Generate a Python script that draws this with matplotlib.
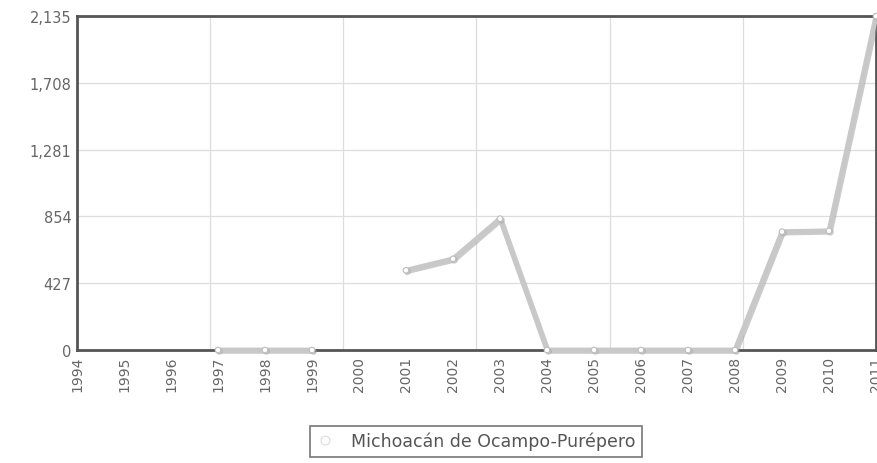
import numpy as np
import matplotlib.pyplot as plt
import matplotlib.patheffects as pe

# --------------------------------------------------------
# Data
# --------------------------------------------------------
years = list(range(1994, 2012))
values = [np.nan, np.nan, np.nan, 0, 0, 0, np.nan, 510, 583, 840,
          0, 0, 0, 0, 0, 757, 762, 2135]
y_ticks = [0, 427, 854, 1281, 1708, 2135]
series_name = 'Michoacán de Ocampo-Purépero'

# --------------------------------------------------------
# Plot
# --------------------------------------------------------
fig = plt.figure(figsize=(8.78, 4.64), dpi=100)
ax = fig.add_axes([0.0877, 0.2435, 0.91, 0.7195])

ax.plot(years, values, color='#c8c8c8', linewidth=3.5,
        marker='o', markersize=4, markerfacecolor='white',
        markeredgecolor='#bdbdbd', markeredgewidth=0.8,
        label=series_name, zorder=3, clip_on=False,
        path_effects=[pe.SimpleLineShadow(offset=(1, -1), shadow_color='#999999', alpha=0.5),
                      pe.Normal()])

ax.set_xlim(1994, 2011)
ax.set_ylim(0, 2135)
ax.set_xticks(years)
ax.set_xticklabels([str(y) for y in years], rotation=90, fontsize=10, color='#666666')
ax.set_yticks(y_ticks)
ax.set_yticklabels([f'{v:,}' for v in y_ticks], fontsize=10.5, color='#666666')
ax.set_xticks(np.linspace(1994, 2011, 7), minor=True)
ax.tick_params(axis='both', which='both', length=0, pad=4)

ax.grid(False)
ax.yaxis.grid(True, color='#dddddd', linewidth=0.9)
ax.xaxis.grid(True, which='minor', color='#dddddd', linewidth=0.9)
ax.set_axisbelow(True)

for s in ax.spines.values():
    s.set_color('#555555')
    s.set_linewidth(2)

leg = fig.legend(loc='center', bbox_to_anchor=(0.542, 0.047), fontsize=12.5,
                 frameon=True, fancybox=False, edgecolor='#555555',
                 handlelength=1.0, handletextpad=1.0, markerscale=1.6,
                 borderpad=0.35, borderaxespad=0)
leg.get_frame().set_linewidth(1.2)
for t in leg.get_texts():
    t.set_color('#555555')
for h in leg.legend_handles:
    h.set_linewidth(0)
    h.set_path_effects([])
    h.set_markeredgecolor('#dddddd')

fig.savefig('out.png', dpi=100)
